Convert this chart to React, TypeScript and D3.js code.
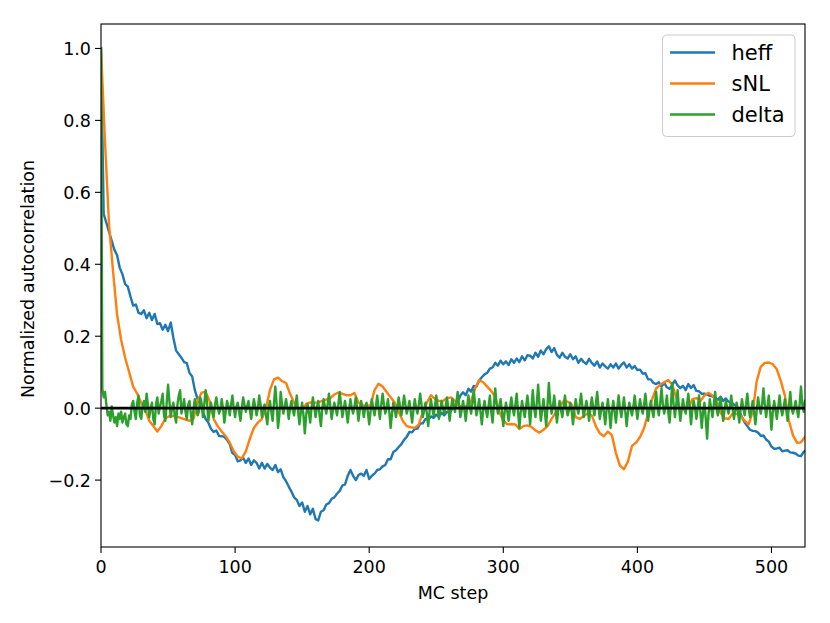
import React from "react";
import * as d3 from "d3";

// MC step spacing of the stored samples
const heffStep = 2;
const snlStep = 3;
const deltaStep = 1;

const heff: number[] = [
  1.0, 0.54, 0.515, 0.49, 0.465, 0.44, 0.425, 0.39, 0.372, 0.345,
  0.338, 0.31, 0.285, 0.288, 0.265, 0.262, 0.272, 0.25, 0.265, 0.245,
  0.262, 0.234, 0.236, 0.218, 0.232, 0.214, 0.238, 0.195, 0.16, 0.15,
  0.14, 0.128, 0.125, 0.098, 0.088, 0.05, 0.025, 0.012, -0.01, -0.03,
  -0.04, -0.057, -0.066, -0.062, -0.077, -0.078, -0.08, -0.088, -0.1, -0.125,
  -0.13, -0.148, -0.145, -0.138, -0.152, -0.14, -0.158, -0.145, -0.152, -0.168,
  -0.152, -0.168, -0.155, -0.165, -0.172, -0.158, -0.178, -0.17, -0.192, -0.203,
  -0.218, -0.232, -0.248, -0.255, -0.272, -0.262, -0.288, -0.272, -0.295, -0.28,
  -0.308, -0.312, -0.288, -0.284, -0.268, -0.264, -0.252, -0.248, -0.238, -0.23,
  -0.215, -0.212, -0.188, -0.172, -0.188, -0.2, -0.186, -0.182, -0.188, -0.172,
  -0.197, -0.188, -0.182, -0.172, -0.17, -0.162, -0.158, -0.142, -0.142, -0.122,
  -0.117, -0.108, -0.1, -0.088, -0.08, -0.066, -0.067, -0.058, -0.057, -0.043,
  -0.042, -0.03, -0.032, -0.023, -0.027, -0.018, -0.024, -0.013, -0.02, -0.01,
  -0.012, -0.002, 0.0, 0.015, 0.035, 0.044, 0.036, 0.054, 0.046, 0.062,
  0.06, 0.077, 0.086, 0.094, 0.098, 0.11, 0.113, 0.126, 0.118, 0.132,
  0.122, 0.13, 0.12, 0.136, 0.126, 0.138, 0.128, 0.144, 0.133, 0.147,
  0.146, 0.138, 0.154, 0.143, 0.16, 0.15, 0.164, 0.172, 0.156, 0.167,
  0.148, 0.14, 0.154, 0.143, 0.138, 0.15, 0.136, 0.144, 0.126, 0.137,
  0.128, 0.123, 0.137, 0.126, 0.118, 0.13, 0.113, 0.124, 0.116, 0.11,
  0.122, 0.113, 0.124, 0.11, 0.12, 0.127, 0.113, 0.122, 0.11, 0.117,
  0.106, 0.107, 0.096, 0.097, 0.08, 0.08, 0.07, 0.067, 0.072, 0.06,
  0.07, 0.058, 0.054, 0.064, 0.077, 0.063, 0.056, 0.062, 0.05, 0.067,
  0.056, 0.064, 0.048, 0.047, 0.04, 0.04, 0.038, 0.034, 0.033, 0.03,
  0.023, 0.032, 0.02, 0.027, 0.018, 0.017, 0.01, 0.007, -0.01, -0.025,
  -0.04, -0.05, -0.06, -0.063, -0.064, -0.068, -0.077, -0.076, -0.087, -0.093,
  -0.107, -0.113, -0.112, -0.11, -0.12, -0.118, -0.117, -0.123, -0.124, -0.126,
  -0.132, -0.133, -0.122, -0.116,
];

const sNL: number[] = [
  1.0, 0.74, 0.51, 0.38, 0.26, 0.19, 0.14, 0.1, 0.06, 0.04,
  0.015, -0.005, -0.035, -0.05, -0.065, -0.05, -0.028, -0.022, -0.022, -0.024,
  -0.028, -0.032, -0.035, -0.03, 0.02, 0.043, 0.045, 0.02, -0.03, -0.05,
  -0.065, -0.078, -0.096, -0.12, -0.135, -0.14, -0.12, -0.085, -0.055, -0.04,
  -0.03, 0.0, 0.05, 0.08, 0.085, 0.075, 0.07, 0.04, 0.015, -0.004,
  -0.008, 0.012, 0.016, 0.015, 0.016, 0.02, 0.024, 0.028, 0.038, 0.043,
  0.04, 0.036, 0.036, 0.042, 0.016, 0.008, 0.006, 0.008, 0.05, 0.068,
  0.06, 0.045, 0.03, 0.016, -0.01, -0.035, -0.05, -0.053, -0.055, -0.046,
  -0.01, 0.015, 0.036, 0.026, 0.02, 0.02, 0.028, 0.03, 0.02, 0.006,
  0.004, 0.006, 0.02, 0.055, 0.078, 0.072, 0.06, 0.048, 0.03, -0.01,
  -0.035, -0.045, -0.044, -0.045, -0.058, -0.05, -0.048, -0.052, -0.062, -0.068,
  -0.06, -0.05, -0.03, -0.013, 0.005, 0.02, 0.018, 0.01, -0.025, -0.03,
  -0.022, -0.015, -0.02, -0.05, -0.07, -0.078, -0.065, -0.075, -0.125, -0.16,
  -0.17, -0.148, -0.105, -0.096, -0.08, -0.055, -0.015, 0.025, 0.055, 0.065,
  0.072, 0.078, 0.065, 0.03, -0.004, -0.004, 0.0, 0.025, 0.028, 0.02,
  0.035, 0.043, 0.035, 0.02, -0.013, -0.028, -0.03, -0.015, -0.016, -0.022,
  -0.035, -0.045, -0.01, 0.075, 0.115, 0.126, 0.127, 0.122, 0.108, 0.075,
  0.035, -0.035, -0.075, -0.096, -0.095, -0.08,
];

const delta: number[] = [
  1.0, 0.055, 0.03, 0.045, 0.01, -0.02, -0.01, -0.035, 0.005, -0.02, -0.04, -0.025, -0.05, -0.015, -0.03, -0.01, -0.04, -0.025, -0.015, -0.045,
  -0.05, -0.02, -0.03, 0.01, 0.02, -0.01, -0.03, 0.015, 0.035, -0.02, -0.03, 0.005, 0.02, -0.01, 0.04, 0.01, -0.025, 0.0, 0.015, -0.03,
  -0.045, 0.01, 0.03, -0.015, 0.005, 0.02, 0.04, -0.02, -0.035, 0.015, 0.065, 0.02, -0.025, 0.0, 0.015, -0.02, -0.04, 0.01, 0.035, 0.05,
  -0.015, 0.005, 0.025, -0.01, -0.03, 0.01, 0.02, -0.015, -0.045, 0.0, 0.025, 0.005, -0.02, -0.01, 0.03, 0.015, -0.025, 0.01, 0.05, 0.02,
  -0.035, -0.01, 0.015, -0.005, -0.025, 0.01, 0.03, 0.005, -0.015, -0.005, 0.025, 0.0, -0.04, -0.01, 0.02, 0.005, -0.02, 0.01, 0.035, 0.0,
  -0.025, 0.005, 0.015, -0.01, -0.035, 0.0, 0.03, 0.01, -0.01, 0.005, 0.02, -0.005, -0.03, 0.0, 0.025, 0.005, -0.02, 0.0, 0.035, 0.01,
  -0.025, 0.0, 0.01, -0.02, -0.045, 0.0, 0.02, -0.01, -0.035, 0.015, 0.06, 0.01, -0.055, -0.02, 0.045, 0.01, -0.015, 0.005, 0.025, 0.0,
  -0.03, 0.0, 0.02, -0.005, -0.02, 0.01, 0.035, -0.01, -0.045, -0.01, 0.015, -0.02, -0.07, -0.02, 0.01, -0.01, -0.04, 0.0, 0.03, 0.005,
  -0.025, 0.0, 0.02, -0.02, -0.05, 0.0, 0.025, 0.005, -0.015, 0.01, 0.04, 0.005, -0.03, -0.005, 0.015, 0.0, -0.02, 0.01, 0.045, 0.01,
  -0.025, 0.0, 0.02, -0.01, -0.04, -0.005, 0.025, 0.0, -0.015, 0.005, 0.03, 0.0, -0.035, -0.005, 0.02, 0.0, -0.025, 0.0, 0.015, -0.01,
  -0.045, -0.01, 0.025, 0.0, -0.02, 0.005, 0.035, 0.0, -0.03, 0.01, 0.04, 0.01, -0.015, 0.0, 0.025, -0.01, -0.055, -0.015, 0.015, -0.005,
  -0.025, 0.0, 0.03, 0.005, -0.02, 0.005, 0.035, 0.01, -0.015, 0.0, 0.02, -0.01, -0.04, -0.005, 0.025, 0.0, -0.015, 0.01, 0.04, 0.01,
  -0.025, -0.005, 0.015, -0.015, -0.05, -0.01, 0.025, 0.0, -0.02, 0.005, 0.035, 0.005, -0.03, -0.005, 0.02, 0.0, -0.015, 0.005, 0.03, 0.0,
  -0.035, 0.0, 0.025, 0.01, -0.01, 0.015, 0.045, 0.01, -0.025, -0.005, 0.02, -0.005, -0.035, 0.0, 0.035, 0.005, -0.015, 0.015, 0.05, 0.01,
  -0.02, 0.0, 0.025, -0.01, -0.045, -0.005, 0.02, -0.005, -0.025, 0.005, 0.035, -0.01, -0.04, 0.01, 0.055, 0.01, -0.015, 0.005, 0.025, -0.01,
  -0.05, -0.01, 0.015, -0.01, -0.035, 0.0, 0.03, 0.0, -0.02, 0.01, 0.04, -0.01, -0.055, -0.01, 0.02, -0.005, -0.025, 0.005, 0.035, 0.0,
  -0.045, 0.0, 0.05, 0.0, -0.025, 0.015, 0.065, 0.01, -0.035, -0.005, 0.025, -0.01, -0.05, 0.01, 0.07, 0.015, -0.015, 0.005, 0.035, -0.005,
  -0.04, -0.005, 0.02, -0.005, -0.025, 0.005, 0.035, 0.0, -0.02, -0.005, 0.015, -0.01, -0.045, -0.005, 0.025, 0.0, -0.015, 0.01, 0.04, 0.005,
  -0.025, 0.0, 0.02, -0.005, -0.035, 0.0, 0.03, 0.005, -0.02, 0.01, 0.045, 0.005, -0.03, -0.005, 0.015, -0.01, -0.045, -0.005, 0.025, -0.01,
  -0.055, -0.01, 0.02, -0.01, -0.04, 0.0, 0.035, 0.0, -0.025, 0.0, 0.03, -0.01, -0.05, -0.01, 0.015, -0.005, -0.02, 0.005, 0.035, 0.0,
  -0.03, 0.0, 0.025, 0.0, -0.015, 0.01, 0.04, 0.0, -0.035, -0.005, 0.02, -0.005, -0.025, 0.01, 0.045, 0.0, -0.02, 0.015, 0.055, 0.01,
  -0.015, 0.005, 0.035, -0.01, -0.04, 0.01, 0.07, 0.01, -0.025, 0.01, 0.05, 0.0, -0.035, -0.005, 0.025, 0.0, -0.015, 0.01, 0.04, 0.0,
  -0.045, -0.005, 0.02, 0.0, -0.03, 0.0, 0.035, -0.01, -0.055, -0.01, 0.015, -0.03, -0.085, -0.02, 0.025, 0.0, -0.025, 0.01, 0.045, 0.0,
  -0.02, 0.005, 0.03, -0.005, -0.035, -0.005, 0.02, 0.0, -0.015, 0.005, 0.035, 0.0, -0.03, -0.005, 0.015, -0.01, -0.04, -0.005, 0.025, 0.0,
  -0.02, 0.01, 0.04, 0.0, -0.025, -0.005, 0.02, -0.01, -0.045, -0.005, 0.03, 0.005, -0.015, 0.01, 0.055, 0.01, -0.025, 0.005, 0.035, -0.01,
  -0.06, -0.01, 0.02, -0.005, -0.03, 0.0, 0.035, 0.0, -0.02, 0.0, 0.025, -0.005, -0.035, 0.005, 0.045, 0.0, -0.015, 0.0, 0.02, -0.005,
  -0.025, 0.01, 0.06, 0.01, -0.01, 0.02,
];

const seriesNames = ["heff", "sNL", "delta"];
const seriesColors = ["#1f77b4", "#ff7f0e", "#2ca02c"];
const xTicks = [0, 100, 200, 300, 400, 500];
const yTicks = [-0.2, 0.0, 0.2, 0.4, 0.6, 0.8, 1.0];
const xDomain = [0, 525];
const yDomain = [-0.386, 1.068];

const W = 830;
const H = 623;
const L = 101;
const R = 805;
const T = 24;
const B = 547;
const FONT = "DejaVu Sans, Liberation Sans, sans-serif";

export default function App() {
  const x = d3.scaleLinear().domain(xDomain).range([L, R]);
  const y = d3.scaleLinear().domain(yDomain).range([B, T]);

  const mk = (vals: number[], step: number) =>
    d3
      .line<number>()
      .x((_, i) => x(i * step))
      .y((v) => y(v))(vals) || "";

  const paths = [mk(heff, heffStep), mk(sNL, snlStep), mk(delta, deltaStep)];
  const fmt = (v: number) => v.toFixed(1).replace("-", "\u2212");

  return (
    <svg
      width={W}
      height={H}
      viewBox={`0 0 ${W} ${H}`}
      style={{ position: "absolute", left: 0, top: 0, background: "#fff" }}
      fontFamily={FONT}
    >
      <rect x={0} y={0} width={W} height={H} fill="#fff" />
      <defs>
        <clipPath id="plotclip">
          <rect x={L} y={T} width={R - L} height={B - T} />
        </clipPath>
      </defs>
      <g clipPath="url(#plotclip)">
        {paths.map((d, i) => (
          <path
            key={seriesNames[i]}
            d={d}
            fill="none"
            stroke={seriesColors[i]}
            strokeWidth={2.4}
            strokeLinejoin="round"
            strokeLinecap="square"
          />
        ))}
        <line x1={L} x2={R} y1={y(0)} y2={y(0)} stroke="#000" strokeWidth={2.8} />
      </g>
      {/* spines */}
      <rect x={L} y={T} width={R - L} height={B - T} fill="none" stroke="#000" strokeWidth={1.1} />
      {/* x ticks */}
      {xTicks.map((t) => (
        <g key={"x" + t}>
          <line x1={x(t)} x2={x(t)} y1={B} y2={B + 6} stroke="#000" strokeWidth={1.1} />
          <text x={x(t)} y={573} fontSize={17.5} textAnchor="middle" fill="#000">
            {t}
          </text>
        </g>
      ))}
      {/* y ticks */}
      {yTicks.map((t) => (
        <g key={"y" + t}>
          <line x1={L - 6} x2={L} y1={y(t)} y2={y(t)} stroke="#000" strokeWidth={1.1} />
          <text x={L - 10} y={y(t) + 6.5} fontSize={17.5} textAnchor="end" fill="#000">
            {fmt(t)}
          </text>
        </g>
      ))}
      <text x={453} y={599} fontSize={17.5} textAnchor="middle" fill="#000">
        MC step
      </text>
      <text
        transform={`translate(34, 279) rotate(-90)`}
        fontSize={17.5}
        textAnchor="middle"
        fill="#000"
      >
        Normalized autocorrelation
      </text>
      {/* legend */}
      <rect
        x={662.5}
        y={35}
        width={132.5}
        height={101.5}
        rx={4}
        fill="#fff"
        fillOpacity={0.8}
        stroke="#cccccc"
        strokeWidth={1}
      />
      {seriesNames.map((n, i) => (
        <g key={"lg" + n}>
          <line
            x1={670}
            x2={715}
            y1={52.5 + i * 31}
            y2={52.5 + i * 31}
            stroke={seriesColors[i]}
            strokeWidth={2.4}
          />
          <text x={731.5} y={52.5 + i * 31 + 7.7} fontSize={21} fill="#000">
            {n}
          </text>
        </g>
      ))}
    </svg>
  );
}
